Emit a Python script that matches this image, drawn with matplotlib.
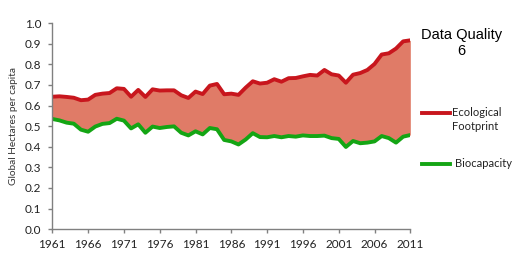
import matplotlib
matplotlib.use("Agg")
import matplotlib.pyplot as plt
import numpy as np

years = np.arange(1961, 2012)

# global hectares per capita
footprint = [0.643, 0.645, 0.642, 0.638, 0.626, 0.629, 0.652, 0.658, 0.661, 0.684,
             0.681, 0.643, 0.676, 0.642, 0.679, 0.673, 0.674, 0.674, 0.650, 0.637,
             0.668, 0.656, 0.697, 0.705, 0.655, 0.658, 0.652, 0.687, 0.718, 0.707,
             0.711, 0.728, 0.716, 0.733, 0.734, 0.742, 0.749, 0.746, 0.773, 0.752,
             0.746, 0.711, 0.750, 0.758, 0.773, 0.802, 0.848, 0.854, 0.877, 0.912,
             0.917]
biocapacity = [0.535, 0.528, 0.517, 0.512, 0.483, 0.473, 0.498, 0.511, 0.515, 0.536,
               0.527, 0.489, 0.509, 0.468, 0.498, 0.491, 0.496, 0.499, 0.468, 0.455,
               0.475, 0.460, 0.491, 0.485, 0.433, 0.426, 0.411, 0.435, 0.466, 0.447,
               0.446, 0.452, 0.446, 0.452, 0.449, 0.455, 0.452, 0.452, 0.454, 0.442,
               0.438, 0.399, 0.428, 0.417, 0.420, 0.426, 0.452, 0.442, 0.420, 0.449,
               0.457]

xtick_years = list(range(1961, 2012, 5))

red = "#c8161d"
green = "#14a514"
fill = "#e07b67"

fig = plt.figure(figsize=(5.30, 2.67), dpi=100)
ax = fig.add_axes([0.0987, 0.142, 0.6755, 0.771])

ax.fill_between(years, biocapacity, footprint, color=fill, lw=0)
ax.plot(years, footprint, color=red, lw=2.8, solid_joinstyle="round")
ax.plot(years, biocapacity, color=green, lw=2.8, solid_joinstyle="round")

ax.set_xlim(1961, 2011)
ax.set_ylim(0, 1.0)
ax.set_xticks(xtick_years)
ax.set_yticks(np.arange(0, 1.01, 0.1))
ax.set_yticklabels(["%.1f" % v for v in np.arange(0, 1.01, 0.1)])

for s in ["top", "right"]:
    ax.spines[s].set_visible(False)
for s in ["left", "bottom"]:
    ax.spines[s].set_color("#808080")
    ax.spines[s].set_linewidth(1.0)
ax.tick_params(axis="both", color="#808080", length=3, width=1,
               labelsize=8.5, labelcolor="#222222")
ax.tick_params(axis="x", pad=4)
ax.tick_params(axis="y", pad=5)
for lab in ax.get_xticklabels() + ax.get_yticklabels():
    lab.set_family("Lato")

ax.set_ylabel("Global Hectares per capita", fontsize=7.3, family="Lato",
              color="#333333", labelpad=5)

# legend drawn by hand on the right
fig.text(0.871, 0.84, "Data Quality\n6", ha="center", va="center",
         fontsize=10.5, family="Liberation Sans", linespacing=1.2)

leg_ax = fig.add_axes([0.79, 0.2, 0.21, 0.5])
leg_ax.set_xlim(0, 1)
leg_ax.set_ylim(0, 1)
leg_ax.axis("off")
leg_ax.plot([0.027, 0.281], [0.756, 0.756], color=red, lw=2.8)
leg_ax.text(0.30, 0.756, "Ecological", va="center", ha="left",
            fontsize=8, family="Lato", color="#222222")
leg_ax.text(0.30, 0.649, "Footprint", va="center", ha="left",
            fontsize=8, family="Lato", color="#222222")
leg_ax.plot([0.027, 0.281], [0.372, 0.372], color=green, lw=2.8)
leg_ax.text(0.325, 0.372, "Biocapacity", va="center", ha="left",
            fontsize=8, family="Lato", color="#222222")

fig.savefig("out.png", dpi=100)
